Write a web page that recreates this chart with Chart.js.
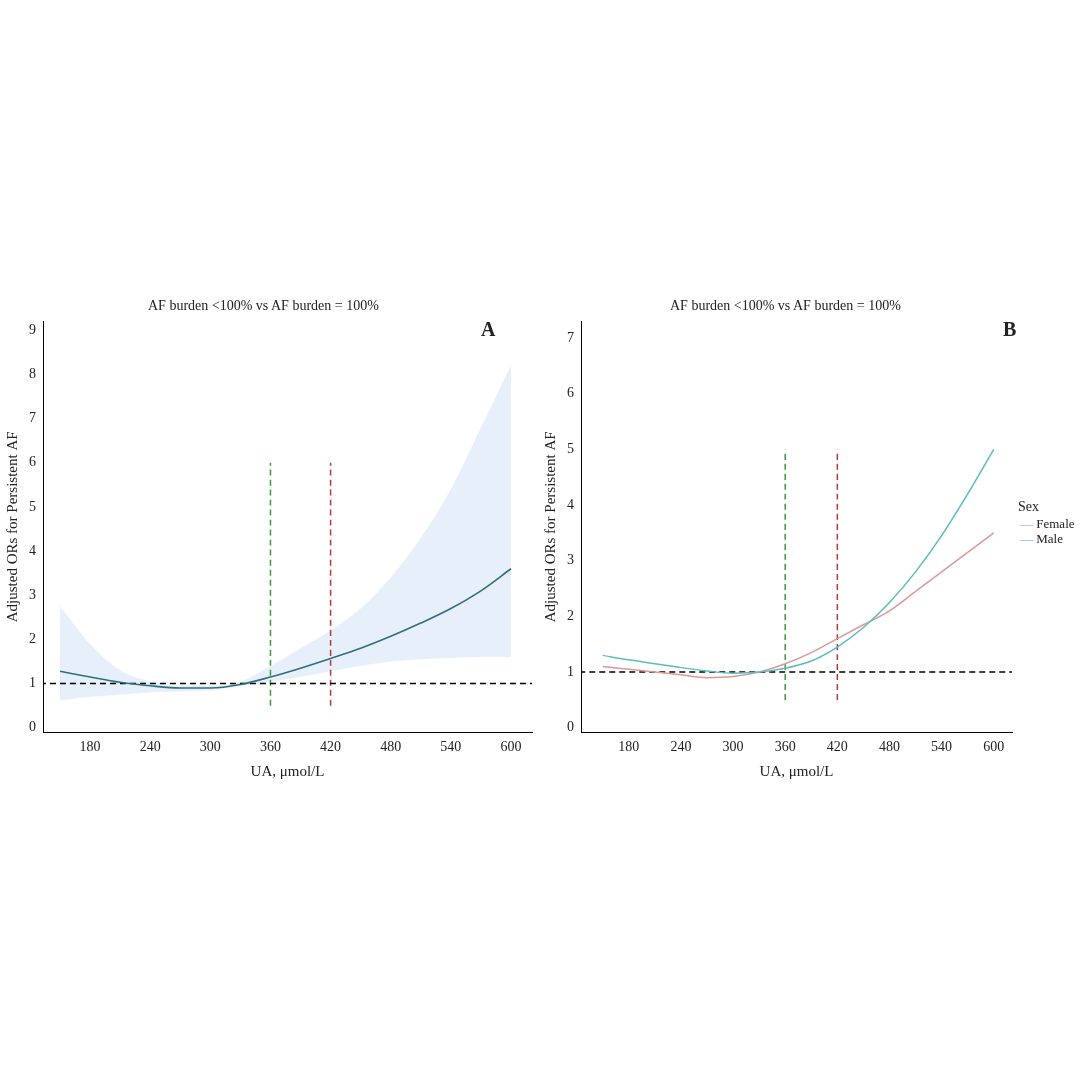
<!DOCTYPE html>
<html><head><meta charset="utf-8">
<script src="https://cdn.jsdelivr.net/npm/chart.js@4/dist/chart.umd.min.js"></script>
<style>
body{margin:0;width:1080px;height:1080px;background:#fff;position:relative;font-family:"Liberation Serif",serif;}
.box{position:absolute}
.t{position:absolute;font-size:14px;color:#222;white-space:nowrap}
</style></head><body>
<div class="box" style="left:0;top:310px;width:540px;height:475px"><canvas id="cA"></canvas></div>
<div class="box" style="left:538px;top:310px;width:482px;height:475px"><canvas id="cB"></canvas></div>
<div class="t" style="left:148px;top:298px">AF burden &lt;100% vs AF burden = 100%</div>
<div class="t" style="left:670px;top:298px">AF burden &lt;100% vs AF burden = 100%</div>
<div class="t" style="left:481px;top:318px;font-size:20px;font-weight:bold">A</div>
<div class="t" style="left:1003px;top:318px;font-size:20px;font-weight:bold">B</div>
<div class="t" style="left:1018px;top:499px;font-size:14px">Sex</div>
<div class="t" style="left:1020px;top:516px;font-size:13px"><span style="color:#d99a98">—</span> Female</div>
<div class="t" style="left:1020px;top:531px;font-size:13px"><span style="color:#5bbcbc">—</span> Male</div>
<script>
// x positions, UA µmol/L
const ua = [150,180,210,240,270,300,330,360,390,420,450,480,510,540,570,600];
// panel A: overall OR and 95% CI
const orAll = [1.28,1.15,1.03,0.95,0.9,0.9,0.98,1.15,1.35,1.57,1.8,2.07,2.37,2.7,3.1,3.6];
const upperAll = [2.75,1.9,1.3,1.05,0.95,0.95,1.05,1.4,1.8,2.2,2.7,3.4,4.3,5.4,6.8,8.2];
const lowerAll = [0.62,0.7,0.75,0.8,0.82,0.85,0.95,1.05,1.15,1.28,1.4,1.5,1.55,1.58,1.6,1.6];
// panel B: by sex
const orFemale = [1.1,1.05,1.0,0.95,0.9,0.92,1.0,1.15,1.35,1.6,1.85,2.1,2.45,2.8,3.15,3.5];
const orMale = [1.3,1.22,1.15,1.08,1.02,0.98,1.0,1.07,1.2,1.45,1.8,2.25,2.8,3.45,4.2,5.0];
const xTicks = [180,240,300,360,420,480,540,600];
const cutoffs = [360,420];

const pts = ys => ua.map((x,i)=>({x:x,y:ys[i]}));
const font = {family:'"Liberation Serif", serif', size:14};
Chart.defaults.font = font;
Chart.defaults.color = '#222';

function vline(x, top, color){
  return {data:[{x:x,y:0.5},{x:x,y:top}],borderColor:color,borderDash:[6,4],borderWidth:1.5,pointRadius:0};
}
function hline(){
  return {data:[{x:100,y:1},{x:700,y:1}],borderColor:'#000',borderDash:[6,4],borderWidth:1.5,pointRadius:0};
}
function opts(xmin,xmax,ymin,ymax,ymaxTick,padTop){
  const yt=[]; for(let i=0;i<=ymaxTick;i++) yt.push(i);
  return {
    responsive:true, maintainAspectRatio:false, animation:false,
    plugins:{legend:{display:false},tooltip:{enabled:false}},
    layout:{padding:{top:padTop,right:8}},
    elements:{line:{cubicInterpolationMode:'monotone'}},
    scales:{
      x:{type:'linear',min:xmin,max:xmax,
        afterBuildTicks:s=>{s.ticks=xTicks.map(v=>({value:v}));},
        grid:{display:false,drawTicks:true,tickLength:4},
        border:{color:'#000'},
        title:{display:true,text:'UA, μmol/L',font:{...font,size:15}}},
      y:{min:ymin,max:ymax,
        afterBuildTicks:s=>{s.ticks=yt.map(v=>({value:v}));},
        grid:{display:false,tickLength:4},
        border:{color:'#000'},
        title:{display:true,text:'Adjusted ORs for Persistent AF',font:{...font,size:15}}}
    }
  };
}

// Chart.js draws later datasets first, so the main lines come first
new Chart(document.getElementById('cA'),{
  type:'line',
  data:{datasets:[
    {data:pts(orAll),borderColor:'#2f6f7f',borderWidth:1.6,pointRadius:0},
    hline(),
    vline(cutoffs[0],6,'#3a9a3a'),
    vline(cutoffs[1],6,'#b03a3a'),
    {data:pts(upperAll),borderWidth:0,pointRadius:0,fill:'+1',backgroundColor:'rgba(215,228,246,0.6)'},
    {data:pts(lowerAll),borderWidth:0,pointRadius:0,fill:false}
  ]},
  options:opts(133,621,-0.1,9.2,9,0)
});
new Chart(document.getElementById('cB'),{
  type:'line',
  data:{datasets:[
    {data:pts(orMale),borderColor:'#5bbcbc',borderWidth:1.5,pointRadius:0},
    {data:pts(orFemale),borderColor:'#d99a98',borderWidth:1.5,pointRadius:0},
    hline(),
    vline(cutoffs[0],5,'#3a9a3a'),
    vline(cutoffs[1],5,'#b03a3a')
  ]},
  options:opts(125,621,-0.08,7.3,7,5)
});
</script>
</body></html>
